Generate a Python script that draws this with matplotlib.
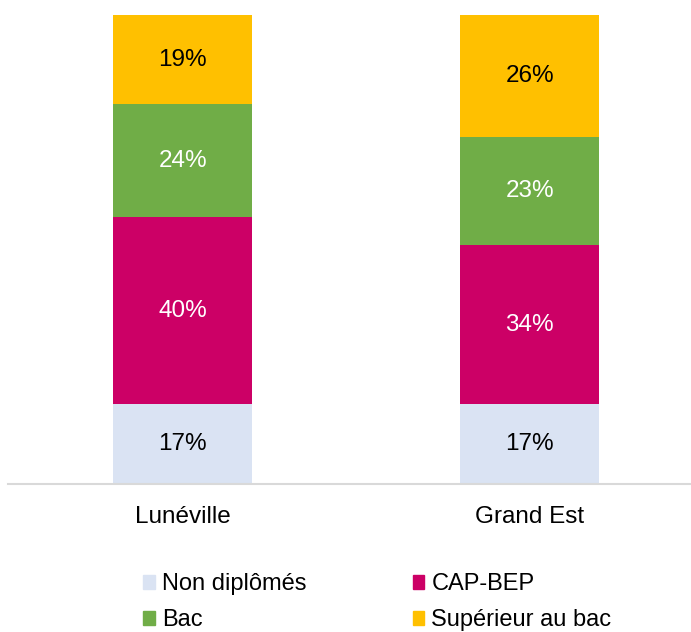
import matplotlib.pyplot as plt
from matplotlib.patches import Patch

plt.rcParams['font.family'] = ['Liberation Sans', 'DejaVu Sans']

# données
lieux = ['Lunéville', 'Grand Est']
categories = ['Non diplômés', 'CAP-BEP', 'Bac', 'Supérieur au bac']
valeurs = {
    'Non diplômés': [17, 17],
    'CAP-BEP': [40, 34],
    'Bac': [24, 23],
    'Supérieur au bac': [19, 26],
}
couleurs = ['#DAE3F3', '#CC0066', '#70AD47', '#FFC000']
couleurs_texte = ['black', 'white', 'white', 'black']

fig = plt.figure(figsize=(6.91, 6.32), dpi=100)
ax = fig.add_axes([0.0116, 0.234, 0.9884, 0.742])

x = [0, 1]
bas = [0, 0]
for cat, c, ct in zip(categories, couleurs, couleurs_texte):
    v = valeurs[cat]
    ax.bar(x, v, bottom=bas, width=0.40, color=c, label=cat)
    for i in range(len(x)):
        ax.text(x[i], bas[i] + v[i] / 2, '%d%%' % v[i], ha='center', va='center',
                color=ct, fontsize=17.5)
    bas = [b + vv for b, vv in zip(bas, v)]

ax.set_ylim(0, 100)
ax.set_xlim(-0.503, 1.465)
for s in ['top', 'right', 'left']:
    ax.spines[s].set_visible(False)
ax.spines['bottom'].set_color('#D9D9D9')
ax.spines['bottom'].set_linewidth(1.5)
ax.set_yticks([])
ax.set_xticks(x)
ax.set_xticklabels(lieux, fontsize=17.5)
ax.tick_params(axis='x', length=0, pad=16)

# légende en lignes : matplotlib remplit par colonnes, donc on réordonne
ordre = [0, 2, 1, 3]
handles = [Patch(color=couleurs[i]) for i in ordre]
labels = [categories[i] for i in ordre]
fig.legend(handles, labels, loc='center', bbox_to_anchor=(0.546, 0.047), ncol=2,
           frameon=False, fontsize=17, handlelength=0.5, handleheight=0.5,
           handletextpad=0.3, columnspacing=4.5, labelspacing=0.6)

fig.savefig('out.png')
